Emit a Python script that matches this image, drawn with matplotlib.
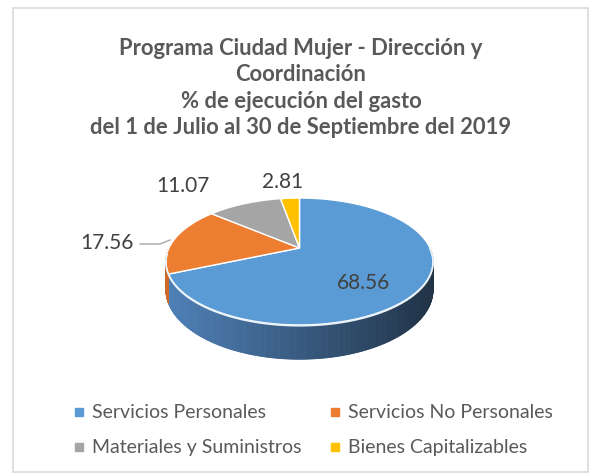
import numpy as np
import matplotlib.pyplot as plt
from matplotlib.patches import Polygon, Rectangle

plt.rcParams['font.family'] = ['Lato', 'DejaVu Sans']

# data
categories = ['Servicios Personales', 'Servicios No Personales',
              'Materiales y Suministros', 'Bienes Capitalizables']
values = [68.56, 17.56, 11.07, 2.81]
value_labels = ['68.56', '17.56', '11.07', '2.81']
colors = ['#5B9BD5', '#ED7D31', '#A5A5A5', '#FFC000']
title = ('Programa Ciudad Mujer - Dirección y\nCoordinación\n'
         '% de ejecución del gasto\ndel 1 de Julio al 30 de Septiembre del 2019')

# pie geometry (pixel space)
cx, cy = 299.5, 248.0
a, b, k = 130.5, 60.6, 0.2126
depth = 27.0


def proj(theta, dz=0.0):
    t = np.radians(theta)
    s = 1.0 / (1.0 + k * np.sin(t))
    return cx + a * np.cos(t) * s, cy - b * np.sin(t) * s + dz * s


fig = plt.figure(figsize=(5.9, 4.74), dpi=100)
ax = fig.add_axes([0, 0, 1, 1])
ax.set_xlim(0, 590)
ax.set_ylim(474, 0)
ax.axis('off')

ax.add_patch(Rectangle((13, 8), 575, 464, fill=False, edgecolor='#D9D9D9', lw=1.2))

# wedge angles, clockwise from 12 o'clock
fr = np.array(values) / sum(values)
ends = 90 - 360 * np.cumsum(fr)
starts = np.concatenate([[90], ends[:-1]])

side_cols = {0: (np.array([78, 128, 183]), np.array([33, 52, 72])),
             1: (np.array([205, 105, 40]), np.array([180, 90, 30]))}

# side walls (front half only)
for i in range(len(values)):
    lo, hi = ends[i] % 360, starts[i] % 360
    if hi <= lo:
        hi += 360
    th = np.linspace(lo, hi, 400)
    c0, c1 = side_cols.get(i, (np.array([120] * 3), np.array([90] * 3)))
    for t1, t2 in zip(th[:-1], th[1:]):
        tm = ((t1 + t2) / 2) % 360
        if not (180 <= tm <= 360):
            continue
        x1, y1 = proj(t1)
        x2, y2 = proj(t2)
        x3, y3 = proj(t2, depth)
        x4, y4 = proj(t1, depth)
        f = np.clip((x1 - (cx - a)) / (2 * a), 0, 1)
        col = (c0 * (1 - f) + c1 * f) / 255
        ax.add_patch(Polygon([(x1, y1), (x2, y2), (x3, y3), (x4, y4)],
                             closed=True, facecolor=col, edgecolor=col, lw=0.6))

# top faces
for i in range(len(values)):
    th = np.linspace(starts[i], ends[i], 200)
    xs, ys = proj(th)
    pts = [(cx, cy)] + list(zip(xs, ys))
    ax.add_patch(Polygon(pts, closed=True, facecolor=colors[i],
                         edgecolor='white', lw=1.0, joinstyle='round'))

# highlight of front rim
th = np.linspace(185, 360, 200)
xs, ys = proj(th)
ax.plot(xs, ys + 0.8, color='#EAF2FA', lw=1.2)

# data labels
label_pos = [(363, 283), (107, 243), (183, 186), (283, 182)]
for (lx, ly), txt in zip(label_pos, value_labels):
    ax.text(lx, ly, txt, ha='center', va='center', fontsize=15, color='#404040')
ax.plot([140, 160, 170], [244, 244, 240], color='#A6A6A6', lw=1)

ax.text(301, 88, title, ha='center', va='center', fontsize=15.8,
        fontweight='bold', color='#595959', linespacing=1.3)

# legend, filled row by row
leg_x = [79, 335]
leg_y = [412, 447]
for i, (name, c) in enumerate(zip(categories, colors)):
    r, col = divmod(i, 2)
    ax.plot(leg_x[col], leg_y[r], marker='s', color=c, markersize=5.5, ls='')
    ax.text(leg_x[col] + 13, leg_y[r], name, ha='left', va='center',
            fontsize=14, color='#595959')

fig.savefig('out.png', dpi=100)
